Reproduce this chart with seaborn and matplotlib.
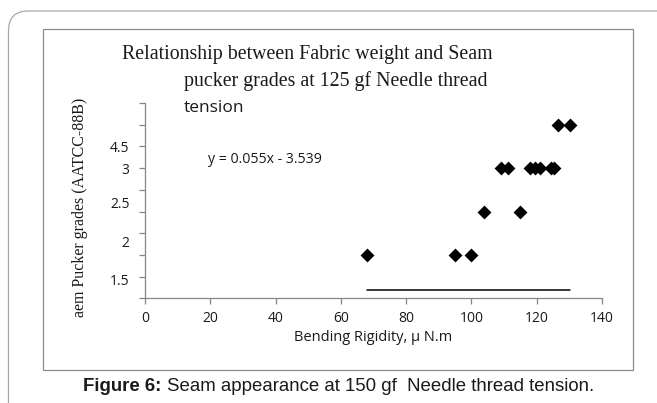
import numpy as np
import pandas as pd
import matplotlib
matplotlib.use("Agg")
import matplotlib.pyplot as plt
from matplotlib.patches import FancyBboxPatch, Rectangle
import seaborn as sns

# data
rigidity = [68, 95, 100, 104, 115, 109, 111.3, 118, 119.5, 121, 124.3, 125.3, 126.6, 130.2]
grade = [2, 2, 2, 3, 3, 4, 4, 4, 4, 4, 4, 4, 5, 5]
trend_x = [68, 130.2]
trend_y = [1.2, 1.2]
x_ticks = [0, 20, 40, 60, 80, 100, 120, 140]
y_ticks = [1, 1.5, 2, 2.5, 3, 3.5, 4, 4.5, 5, 5.5]
# the y tick labels sit off their ticks in the original
y_label_pos = [1.44, 2.31, 3.2, 3.99, 4.49]
y_label_text = ["1.5", "2", "2.5", "3", "4.5"]
equation = "y = 0.055x - 3.539"

df = pd.DataFrame({"rigidity": rigidity, "grade": grade})
trend = pd.DataFrame({"x": trend_x, "y": trend_y})

sns.set_theme(style="ticks")
plt.rcParams["font.family"] = ["Open Sans", "DejaVu Sans"]

axis_col = "#878787"
text_col = "#1a1a1a"

fig = plt.figure(figsize=(6.57, 4.03), dpi=100)
ax = fig.add_axes([145 / 657, 1 - 298.3 / 403, 457 / 657, 195.3 / 403])

sns.scatterplot(data=df, x="rigidity", y="grade", marker="D", s=50,
                color="black", edgecolor="black", linewidth=0, ax=ax, zorder=3)
sns.lineplot(data=trend, x="x", y="y", color="black", linewidth=1.1, ax=ax)

ax.set_xlim(0, 140)
ax.set_ylim(1, 5.5)
ax.set_xticks(x_ticks)
ax.set_xticklabels([str(v) for v in x_ticks])
ax.set_yticks(y_ticks)
ax.set_yticklabels([])
ax.set_yticks(y_label_pos, minor=True)
ax.set_yticklabels(y_label_text, minor=True)

for side in ["top", "right"]:
    ax.spines[side].set_visible(False)
for side in ["left", "bottom"]:
    ax.spines[side].set_color(axis_col)
    ax.spines[side].set_linewidth(0.9)

ax.tick_params(axis="both", which="major", length=4, width=0.9, color=axis_col,
               labelsize=10, labelcolor=text_col, direction="out")
ax.tick_params(axis="x", which="major", pad=5)
ax.tick_params(axis="y", which="minor", length=0, pad=11,
               labelsize=10, labelcolor=text_col)

ax.set_xlabel("Bending Rigidity, \u03bc N.m", fontsize=10.5, color=text_col, labelpad=3)
ax.set_ylabel("")

ax.text(19.4, 4.2, equation, fontsize=10.2, color=text_col, va="center", ha="left")

# title lines, as placed in the original chart box
fig.text(122 / 657, 1 - 59 / 403, "Relationship between Fabric weight and Seam",
         family="Liberation Serif", fontsize=14.3, color=text_col, va="baseline")
fig.text(184 / 657, 1 - 86 / 403, "pucker grades at 125 gf Needle thread",
         family="Liberation Serif", fontsize=14.3, color=text_col, va="baseline")
fig.text(184 / 657, 1 - 111.5 / 403, "tension",
         fontsize=12.5, color=text_col, va="baseline")

fig.text(80 / 657, 1 - 207 / 403, "aem Pucker grades (AATCC-88B)",
         family="Liberation Serif", fontsize=11.5, color=text_col,
         rotation=90, ha="center", va="center")

# chart area frame and outer rounded frame
fig.patches.append(Rectangle((43 / 657, 1 - 369.5 / 403), 590 / 657, 341 / 403,
                             transform=fig.transFigure, fill=False,
                             edgecolor="#8c8c8c", linewidth=0.9))
fig.patches.append(FancyBboxPatch((8.5 / 657, -0.2), 1.2, 1 - 11 / 403 + 0.2,
                                  boxstyle="round,pad=0,rounding_size=0.03",
                                  transform=fig.transFigure, fill=False,
                                  edgecolor="#a8a8a8", linewidth=0.9,
                                  mutation_aspect=657 / 403))

cap = fig.text(83 / 657, 1 - 391 / 403, "Figure 6:", family="Liberation Sans",
               fontsize=13.4, fontweight="bold", color=text_col, va="baseline")
fig.canvas.draw()
bb = cap.get_window_extent()
fig.text(bb.x1 / 657 + 0.008, 1 - 391 / 403,
         "Seam appearance at 150 gf  Needle thread tension.",
         family="Liberation Sans", fontsize=13.4, color=text_col, va="baseline")

fig.savefig("out.png", dpi=100)
